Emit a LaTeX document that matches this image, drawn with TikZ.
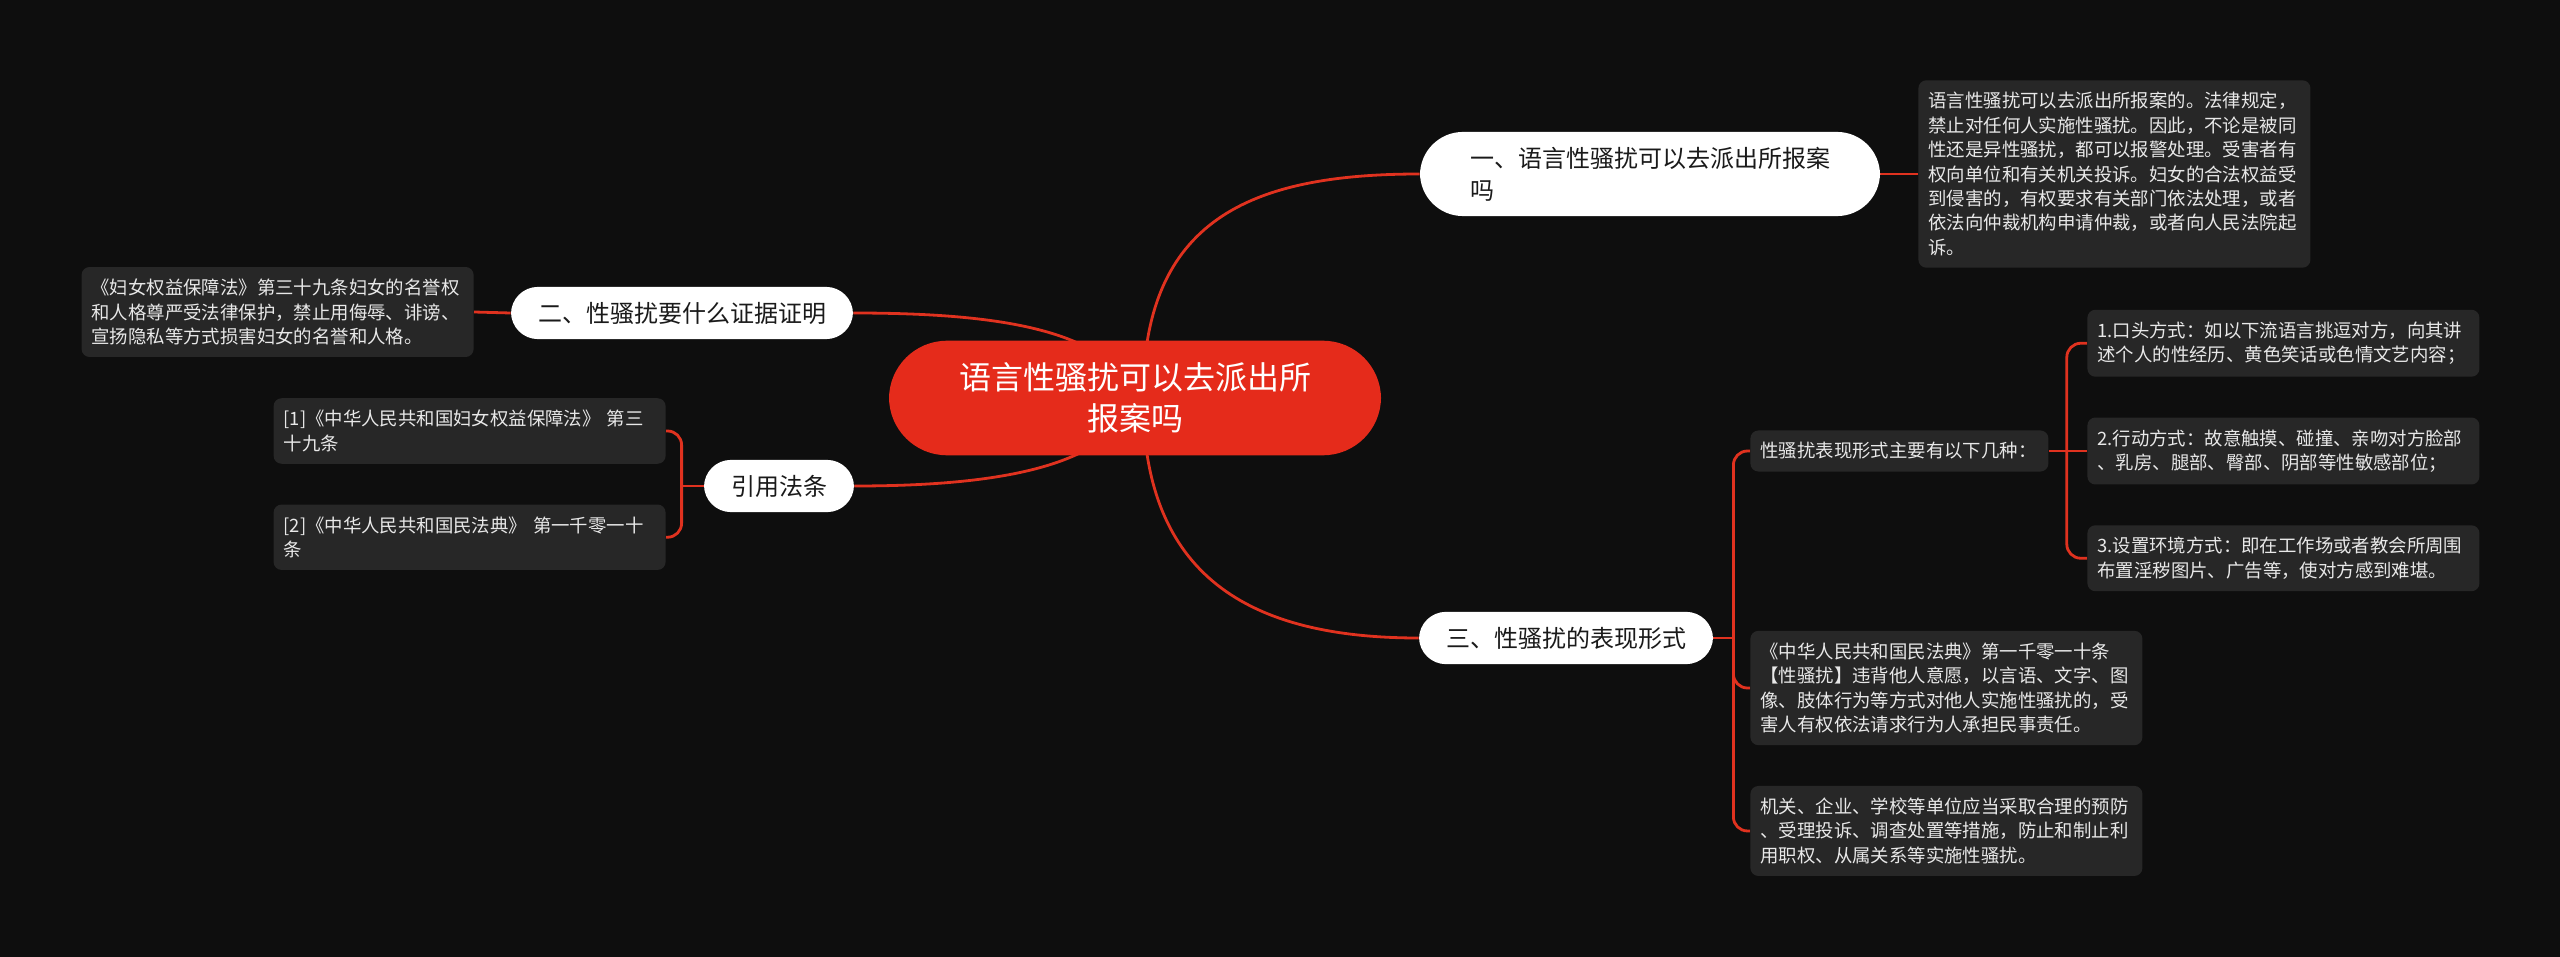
\documentclass[tikz,border=0pt]{standalone}
\usepackage{fontspec}
\setmainfont{Noto Sans CJK SC}
\usetikzlibrary{positioning, backgrounds}

\definecolor{bgblack}{HTML}{0E0E0E}
\definecolor{hubred}{HTML}{E52B1B}
\definecolor{linkred}{HTML}{E0321F}
\definecolor{leafgray}{HTML}{272727}
\definecolor{leaftext}{HTML}{E8E8E8}
\definecolor{topictext}{HTML}{1A1A1A}

\begin{document}
\begin{tikzpicture}[
    x=0.5pt, y=-0.5pt,
    hub/.style={
        rectangle, fill=hubred, text=white, rounded corners=29pt,
        align=center, font=\fontsize{16pt}{20.5pt}\selectfont,
        inner xsep=35pt, inner ysep=11pt
    },
    topic/.style={
        rectangle, fill=white, text=topictext, rounded corners=13.5pt,
        align=left, font=\fontsize{12pt}{16pt}\selectfont,
        inner xsep=13.5pt, inner ysep=7.5pt
    },
    leaf/.style={
        rectangle, fill=leafgray, text=leaftext, rounded corners=4pt,
        align=left, font=\fontsize{9.2pt}{12.2pt}\selectfont,
        text width=186pt, inner xsep=5pt, inner ysep=6pt
    },
    link/.style={draw=linkred, line width=1.4pt},
    fork/.style={link, rounded corners=7pt},
]

\useasboundingbox (0,0) rectangle (2560,957);
\begin{scope}[on background layer]
    \fill[bgblack] (0,0) rectangle (2560,957);
\end{scope}

% Central node
\node[hub] (hub) at (1135,398) {语言性骚扰可以去派出所\\报案吗};
\coordinate[right=4pt of hub.center] (hubmid);

% Branch one (upper right)
\node[topic, rounded corners=21.5pt, inner xsep=25pt] (one) at (1650,174)
    {一、语言性骚扰可以去派出所报案\\吗};
\node[leaf, anchor=west] (onenote) at (1918,174)
    {语言性骚扰可以去派出所报案的。法律规定，\\
     禁止对任何人实施性骚扰。因此，不论是被同\\
     性还是异性骚扰，都可以报警处理。受害者有\\
     权向单位和有关机关投诉。妇女的合法权益受\\
     到侵害的，有权要求有关部门依法处理，或者\\
     依法向仲裁机构申请仲裁，或者向人民法院起\\
     诉。};

% Branch two (upper left)
\node[topic] (two) at (682,313) {二、性骚扰要什么证据证明};
\node[leaf, anchor=east] (twonote) at (474,312)
    {《妇女权益保障法》第三十九条妇女的名誉权\\
     和人格尊严受法律保护，禁止用侮辱、诽谤、\\
     宣扬隐私等方式损害妇女的名誉和人格。};

% Cited laws (lower left)
\node[topic] (cite) at (779,486) {引用法条};
\node[leaf, anchor=east] (ref1) at (666,431)
    {[1]《中华人民共和国妇女权益保障法》 第三\\十九条};
\node[leaf, below=20pt of ref1] (ref2)
    {[2]《中华人民共和国民法典》 第一千零一十\\条};
\coordinate[left=11pt of cite.west] (citefork);

% Branch three (lower right)
\node[topic] (three) at (1566,638) {三、性骚扰的表现形式};
\node[leaf, text width=139pt, anchor=west] (forms) at (1750,451)
    {性骚扰表现形式主要有以下几种：};
\node[leaf, anchor=west] (way2) at (2087,451)
    {2.行动方式：故意触摸、碰撞、亲吻对方脸部\\
     、乳房、腿部、臀部、阴部等性敏感部位；};
\node[leaf, above=20pt of way2] (way1)
    {1.口头方式：如以下流语言挑逗对方，向其讲\\
     述个人的性经历、黄色笑话或色情文艺内容；};
\node[leaf, below=20pt of way2] (way3)
    {3.设置环境方式：即在工作场或者教会所周围\\
     布置淫秽图片、广告等，使对方感到难堪。};
\coordinate[right=9pt of forms.east] (formsfork);

\node[leaf, anchor=west] (civil) at (1750,688)
    {《中华人民共和国民法典》第一千零一十条\\
     【性骚扰】违背他人意愿，以言语、文字、图\\
     像、肢体行为等方式对他人实施性骚扰的，受\\
     害人有权依法请求行为人承担民事责任。};
\node[leaf, below=20pt of civil] (units)
    {机关、企业、学校等单位应当采取合理的预防\\
     、受理投诉、调查处置等措施，防止和制止利\\
     用职权、从属关系等实施性骚扰。};
\coordinate[right=10pt of three.east] (threefork);

% Connecting lines
\begin{scope}[on background layer]
    % main branches from the central node
    \draw[link] (hubmid) .. controls +(0,-178) and +(-170,0) .. (one.west);
    \draw[link] (hubmid) .. controls +(0,178) and +(-170,0) .. (three.west);
    \draw[link] (hub.center) .. controls +(-25,-68) and +(147,0) .. (two.east);
    \draw[link] (hub.center) .. controls +(-25,68) and +(147,0) .. (cite.east);

    % single notes
    \draw[link] (one.east) -- (onenote.west);
    \draw[link] (two.west) -- (twonote.east);

    % brackets
    \draw[link] (cite.west) -- (citefork);
    \draw[fork] (ref1.east) -| (citefork) |- (ref2.east);

    \draw[link] (forms.east) -- (way2.west);
    \draw[fork] (way1.west) -| (formsfork) |- (way3.west);

    \draw[link] (three.east) -- (threefork);
    \draw[fork] (forms.west) -| (threefork) |- (units.west);
    \draw[fork] (threefork) |- (civil.west);
\end{scope}

\end{tikzpicture}
\end{document}
